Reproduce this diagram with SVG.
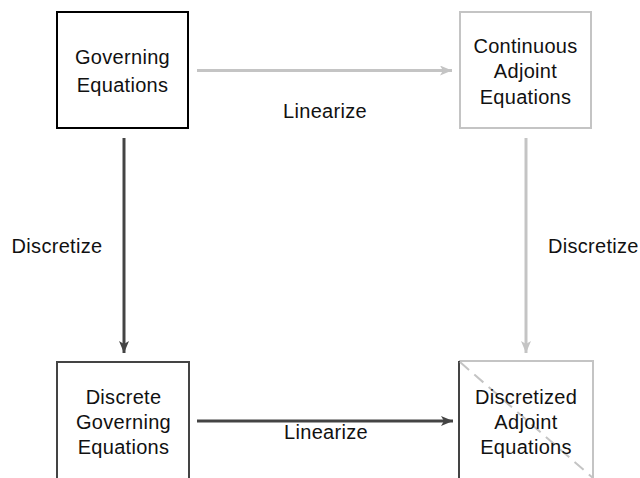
<svg xmlns="http://www.w3.org/2000/svg" width="640" height="478" viewBox="0 0 640 478">
<defs>
<style>
text{font-family:"Liberation Sans",Arial,sans-serif;font-size:20px;letter-spacing:0.3px;fill:#111;text-anchor:middle}
.dk{stroke:#444;stroke-width:3;fill:none}
.lt{stroke:#c4c4c4;stroke-width:3;fill:none}
</style>
<marker id="ad" markerWidth="12" markerHeight="10" refX="12" refY="5" orient="auto" markerUnits="userSpaceOnUse"><path d="M0,0 L12,5 L0,10 L3,5 Z" fill="#444"/></marker>
<marker id="al" markerWidth="12" markerHeight="10" refX="12" refY="5" orient="auto" markerUnits="userSpaceOnUse"><path d="M0,0 L12,5 L0,10 L3,5 Z" fill="#c4c4c4"/></marker>
</defs>
<rect width="640" height="478" fill="#fff"/>
<g id="connectors">
<line class="lt" x1="197" y1="70.5" x2="452" y2="70.5" marker-end="url(#al)"/>
<line class="dk" x1="124" y1="138" x2="124" y2="353" marker-end="url(#ad)"/>
<line class="lt" x1="526" y1="138" x2="526" y2="353" marker-end="url(#al)"/>
<line class="dk" x1="197" y1="421" x2="453" y2="421" marker-end="url(#ad)"/>
<text x="325" y="118">Linearize</text>
<text x="57" y="253">Discretize</text>
<text x="548" y="253" style="text-anchor:start">Discretize</text>
<text x="326" y="439">Linearize</text>
</g>
<g id="governing">
<rect x="57" y="12" width="131" height="116" fill="#fff" stroke="#000" stroke-width="2"/>
<text x="122.5" y="64">Governing</text>
<text x="122.5" y="92">Equations</text>
</g>
<g id="continuous-adjoint">
<rect x="460" y="12" width="131" height="116" fill="#fff" stroke="#c4c4c4" stroke-width="2"/>
<text x="525.5" y="53">Continuous</text>
<text x="525.5" y="78">Adjoint</text>
<text x="525.5" y="104">Equations</text>
</g>
<g id="discrete-governing">
<rect x="57" y="362" width="132" height="130" fill="#fff" stroke="#444" stroke-width="2"/>
<text x="123.5" y="404">Discrete</text>
<text x="123.5" y="429">Governing</text>
<text x="123.5" y="454">Equations</text>
</g>
<g id="discretized-adjoint">
<path d="M459,361 H593 V492" fill="#fff" stroke="#c4c4c4" stroke-width="2"/>
<line x1="459" y1="361" x2="459" y2="492" stroke="#444" stroke-width="2"/>
<line x1="460" y1="362" x2="593" y2="478" stroke="#c4c4c4" stroke-width="2" stroke-dasharray="12,7"/>
<text x="526" y="404">Discretized</text>
<text x="526" y="429">Adjoint</text>
<text x="526" y="454">Equations</text>
</g>
</svg>
